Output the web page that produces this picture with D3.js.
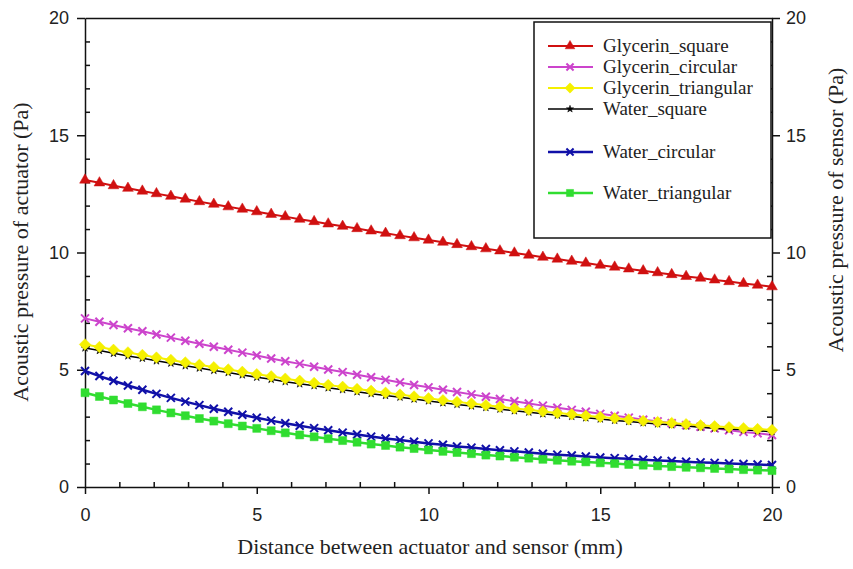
<!DOCTYPE html>
<html>
<head>
<meta charset="utf-8">
<script src="https://cdn.jsdelivr.net/npm/d3@7"></script>
<style>
    body { margin: 0; background: #fff; }
    .serif { font-family: "Times New Roman", "Liberation Serif", "DejaVu Serif", serif; }
    .sans { font-family: Arial, "Liberation Sans", sans-serif; }
</style>
</head>
<body>
<svg id="chart" width="853" height="569"></svg>
<script>
// Distance between actuator and sensor (mm), one marker per sample
const distance = [0, 0.42, 0.83, 1.25, 1.67, 2.08, 2.5, 2.92, 3.33, 3.75, 4.17, 4.58, 5, 5.42, 5.83, 6.25, 6.67, 7.08, 7.5, 7.92,
    8.33, 8.75, 9.17, 9.58, 10, 10.42, 10.83, 11.25, 11.67, 12.08, 12.5, 12.92, 13.33, 13.75, 14.17, 14.58, 15, 15.42, 15.83, 16.25,
    16.67, 17.08, 17.5, 17.92, 18.33, 18.75, 19.17, 19.58, 20];

// Acoustic pressure (Pa)
const glycerinSquare = [13.09, 12.97, 12.85, 12.74, 12.62, 12.51, 12.40, 12.28, 12.17, 12.06, 11.95, 11.85, 11.74, 11.63, 11.53, 11.42,
    11.32, 11.22, 11.12, 11.02, 10.92, 10.82, 10.72, 10.63, 10.53, 10.44, 10.34, 10.25, 10.16, 10.07, 9.98, 9.89, 9.80, 9.72, 9.63,
    9.55, 9.46, 9.38, 9.30, 9.22, 9.14, 9.06, 8.98, 8.91, 8.83, 8.76, 8.68, 8.61, 8.54];
const glycerinCircular = [7.19, 7.05, 6.91, 6.77, 6.64, 6.50, 6.37, 6.24, 6.11, 5.98, 5.85, 5.73, 5.61, 5.48, 5.36, 5.25, 5.13, 5.01,
    4.90, 4.79, 4.68, 4.57, 4.46, 4.35, 4.25, 4.15, 4.05, 3.95, 3.85, 3.75, 3.66, 3.56, 3.47, 3.38, 3.29, 3.21, 3.12, 3.04, 2.96,
    2.87, 2.80, 2.72, 2.64, 2.57, 2.50, 2.42, 2.35, 2.29, 2.22];
const glycerinTriangular = [6.08, 5.97, 5.85, 5.74, 5.63, 5.52, 5.42, 5.31, 5.21, 5.11, 5.01, 4.91, 4.81, 4.72, 4.62, 4.53, 4.44, 4.35,
    4.27, 4.18, 4.10, 4.02, 3.94, 3.86, 3.78, 3.70, 3.63, 3.56, 3.49, 3.42, 3.35, 3.29, 3.22, 3.16, 3.10, 3.04, 2.99, 2.93, 2.88,
    2.82, 2.77, 2.73, 2.68, 2.63, 2.59, 2.55, 2.51, 2.47, 2.43];
const waterSquare = [5.93, 5.82, 5.70, 5.59, 5.49, 5.38, 5.28, 5.17, 5.07, 4.97, 4.88, 4.78, 4.68, 4.59, 4.49, 4.40, 4.32, 4.23,
    4.15, 4.06, 3.98, 3.90, 3.83, 3.75, 3.67, 3.59, 3.52, 3.45, 3.39, 3.32, 3.25, 3.19, 3.12, 3.06, 3.01, 2.95, 2.90, 2.84, 2.79,
    2.74, 2.69, 2.65, 2.60, 2.55, 2.51, 2.47, 2.44, 2.40, 2.36];
const waterCircular = [4.95, 4.73, 4.53, 4.33, 4.15, 3.97, 3.80, 3.64, 3.49, 3.34, 3.21, 3.08, 2.95, 2.83, 2.72, 2.61, 2.51, 2.42,
    2.32, 2.24, 2.15, 2.07, 2.00, 1.93, 1.86, 1.80, 1.73, 1.68, 1.62, 1.57, 1.52, 1.47, 1.42, 1.38, 1.34, 1.30, 1.26, 1.23, 1.20,
    1.16, 1.13, 1.11, 1.08, 1.05, 1.03, 1.00, 0.98, 0.96, 0.94];
const waterTriangular = [4.02, 3.86, 3.71, 3.56, 3.42, 3.29, 3.16, 3.04, 2.92, 2.81, 2.70, 2.60, 2.50, 2.40, 2.31, 2.22, 2.14, 2.06,
    1.98, 1.91, 1.83, 1.77, 1.70, 1.64, 1.58, 1.52, 1.47, 1.42, 1.36, 1.32, 1.27, 1.23, 1.18, 1.14, 1.10, 1.07, 1.03, 1.00, 0.96,
    0.93, 0.90, 0.87, 0.84, 0.82, 0.79, 0.77, 0.74, 0.72, 0.70];

const seriesNames = ['Glycerin_square', 'Glycerin_circular', 'Glycerin_triangular', 'Water_square', 'Water_circular', 'Water_triangular'];

const majorTicks = [0, 5, 10, 15, 20];
const minorTicks = [1, 2, 3, 4, 6, 7, 8, 9, 11, 12, 13, 14, 16, 17, 18, 19];

// custom marker shapes
const diamond = {
    draw(ctx, size) {
        const r = Math.sqrt(size / 2);
        ctx.moveTo(0, -r); ctx.lineTo(r, 0); ctx.lineTo(0, r); ctx.lineTo(-r, 0); ctx.closePath();
    }
};
const cross = {
    draw(ctx, size) {
        const r = Math.sqrt(size) / 2;
        ctx.moveTo(-r, -r); ctx.lineTo(r, r);
        ctx.moveTo(r, -r); ctx.lineTo(-r, r);
    }
};

const series = [
    { name: seriesNames[0], values: glycerinSquare, color: '#d01010', symbol: d3.symbolTriangle, size: 50, filled: true, lw: 2 },
    { name: seriesNames[1], values: glycerinCircular, color: '#cc44cc', symbol: cross, size: 64, filled: false, lw: 2 },
    { name: seriesNames[3], values: waterSquare, color: '#000000', symbol: d3.symbolStar, size: 20, filled: true, lw: 1.5 },
    { name: seriesNames[2], values: glycerinTriangular, color: '#f5f000', symbol: diamond, size: 66, filled: true, lw: 2 },
    { name: seriesNames[4], values: waterCircular, color: '#1010a8', symbol: cross, size: 64, filled: false, lw: 2.5 },
    { name: seriesNames[5], values: waterTriangular, color: '#30dd30', symbol: d3.symbolSquare, size: 64, filled: true, lw: 2.5 }
];

const svg = d3.select('#chart');
const x = d3.scaleLinear().domain([0, 20]).range([85, 772]);
const y = d3.scaleLinear().domain([0, 20]).range([487, 18]);

function styleAxis(g) {
    g.attr('font-family', null).attr('font-size', null);
    g.selectAll('path, line').attr('stroke', '#111').attr('stroke-width', 1.5);
    g.selectAll('text').attr('class', 'sans').style('font-size', '18px').attr('fill', '#222');
}

// left axis
svg.append('g').attr('transform', 'translate(85,0)')
    .call(d3.axisLeft(y).tickValues(majorTicks).tickSize(8).tickSizeOuter(0).tickPadding(8))
    .call(styleAxis);
svg.append('g').attr('transform', 'translate(85,0)')
    .call(d3.axisLeft(y).tickValues(minorTicks).tickSize(-5).tickFormat(''))
    .call(g => g.select('.domain').remove())
    .call(styleAxis);

// right axis
svg.append('g').attr('transform', 'translate(772,0)')
    .call(d3.axisRight(y).tickValues(majorTicks).tickSize(8).tickSizeOuter(0).tickPadding(6))
    .call(styleAxis);
svg.append('g').attr('transform', 'translate(772,0)')
    .call(d3.axisRight(y).tickValues(minorTicks).tickSize(-5).tickFormat(''))
    .call(g => g.select('.domain').remove())
    .call(styleAxis);

// bottom axis
svg.append('g').attr('transform', 'translate(0,487)')
    .call(d3.axisBottom(x).tickValues(majorTicks).tickSize(7).tickSizeOuter(0).tickPadding(14))
    .call(styleAxis);
svg.append('g').attr('transform', 'translate(0,487)')
    .call(d3.axisBottom(x).tickValues(minorTicks).tickSize(-5).tickFormat(''))
    .call(g => g.select('.domain').remove())
    .call(styleAxis);

// top frame
svg.append('g').attr('transform', 'translate(0,18)')
    .call(d3.axisTop(x).tickValues([]).tickSizeOuter(0))
    .call(styleAxis);

// axis titles
svg.append('text')
    .attr('class', 'serif')
    .attr('x', 430).attr('y', 554)
    .attr('text-anchor', 'middle')
    .style('font-size', '22px').attr('fill', '#222')
    .text('Distance between actuator and sensor (mm)');

svg.append('text')
    .attr('class', 'serif')
    .attr('transform', 'translate(28,252) rotate(-90)')
    .attr('text-anchor', 'middle')
    .style('font-size', '22px').attr('fill', '#222')
    .text('Acoustic pressure of actuator (Pa)');

svg.append('text')
    .attr('class', 'serif')
    .attr('transform', 'translate(843,210) rotate(-90)')
    .attr('text-anchor', 'middle')
    .style('font-size', '22px').attr('fill', '#222')
    .text('Acoustic pressure of sensor (Pa)');

// series lines and markers
const line = d3.line().x((d, i) => x(distance[i])).y(d => y(d));

series.forEach(s => {
    const g = svg.append('g');
    g.append('path')
        .attr('d', line(s.values))
        .attr('fill', 'none')
        .attr('stroke', s.color)
        .attr('stroke-width', s.lw);

    g.selectAll('path.marker')
        .data(s.values)
        .enter()
        .append('path')
        .attr('class', 'marker')
        .attr('transform', (d, i) => `translate(${x(distance[i])},${y(d)})`)
        .attr('d', d3.symbol().type(s.symbol).size(s.size))
        .attr('fill', s.filled ? s.color : 'none')
        .attr('stroke', s.color)
        .attr('stroke-width', s.filled ? 0.5 : 2);
});

// legend
const legendRows = [46, 67, 88, 109, 152, 193];
const legend = svg.append('g');
legend.append('rect')
    .attr('x', 534).attr('y', 22)
    .attr('width', 237).attr('height', 216)
    .attr('fill', '#fff')
    .attr('stroke', '#111')
    .attr('stroke-width', 1.5);

seriesNames.forEach((name, i) => {
    const s = series.find(d => d.name === name);
    const ly = legendRows[i];
    legend.append('line')
        .attr('x1', 548).attr('x2', 593)
        .attr('y1', ly).attr('y2', ly)
        .attr('stroke', s.color)
        .attr('stroke-width', s.lw);
    legend.append('path')
        .attr('transform', `translate(570,${ly})`)
        .attr('d', d3.symbol().type(s.symbol).size(s.size * 0.8))
        .attr('fill', s.filled ? s.color : 'none')
        .attr('stroke', s.color)
        .attr('stroke-width', s.filled ? 0.5 : 2);
    legend.append('text')
        .attr('class', 'serif')
        .attr('x', 603).attr('y', ly)
        .attr('dy', '0.33em')
        .style('font-size', '19px').attr('fill', '#222')
        .text(name);
});
</script>
</body>
</html>
